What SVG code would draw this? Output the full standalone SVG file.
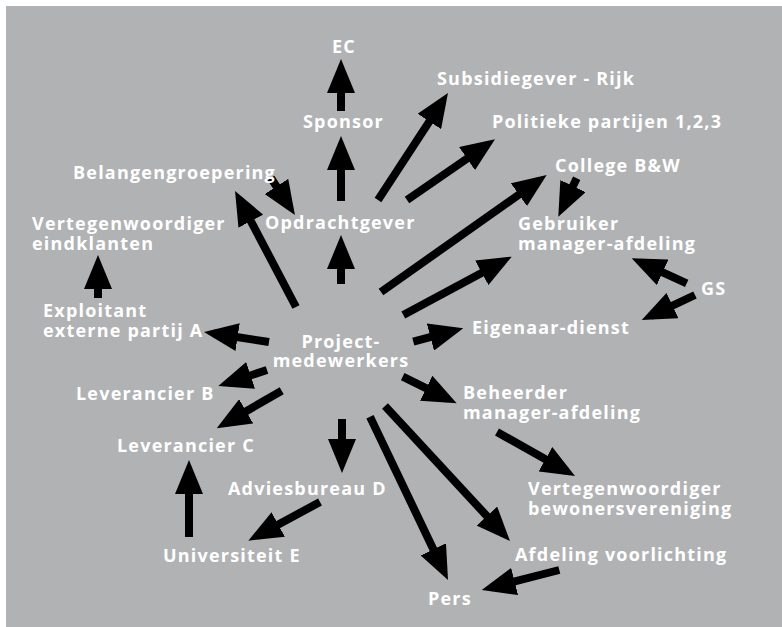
<svg xmlns="http://www.w3.org/2000/svg" width="782" height="627" viewBox="0 0 782 627">
<defs>
<marker id="ah" markerUnits="userSpaceOnUse" markerWidth="34" markerHeight="28" viewBox="0 0 34 28" refX="24" refY="14" orient="auto"><path d="M0,0 L34,14 L0,28 z" fill="#000"/></marker>
<style>
text{font-family:"Open Sans","DejaVu Sans",sans-serif;font-weight:bold;font-size:18px;letter-spacing:1.2px;fill:#fff}
.c{stroke:#000;stroke-width:8;fill:none;marker-end:url(#ah)}
.m{text-anchor:middle}
</style>
</defs>
<rect x="0" y="0" width="782" height="627" fill="#fff"/>
<rect x="6" y="6" width="776" height="621" fill="#b1b2b4"/>
<g id="connectors">
<path class="c" d="M341,111 L341,69"/>
<path class="c" d="M341,201 L341,146"/>
<path class="c" d="M341,284 L341,245"/>
<path class="c" d="M271,178 L289.5,206.6"/>
<path class="c" d="M296,307 L239.7,199.9"/>
<path class="c" d="M98,298 L98,265"/>
<path class="c" d="M269,342 L213.9,333.5"/>
<path class="c" d="M267,370 L227.8,382.9"/>
<path class="c" d="M281.7,390.7 L225.4,423.3"/>
<path class="c" d="M189,537 L189,470"/>
<path class="c" d="M342,419 L342,463"/>
<path class="c" d="M320,502 L257.1,535.9"/>
<path class="c" d="M378,200 L442.5,101.4"/>
<path class="c" d="M407,200 L486.8,145"/>
<path class="c" d="M381,292 L538.5,180.8"/>
<path class="c" d="M403.3,315 L502.9,261.4"/>
<path class="c" d="M576.7,178.3 L562.6,207.7"/>
<path class="c" d="M686.7,283.3 L640.8,262.4"/>
<path class="c" d="M695,295 L650.8,315.8"/>
<path class="c" d="M413.3,341.7 L453.6,330.9"/>
<path class="c" d="M402.7,376.7 L447.7,398.9"/>
<path class="c" d="M497,432 L566.3,471.1"/>
<path class="c" d="M385,406 L503.2,533.7"/>
<path class="c" d="M370,416.7 L443.7,571"/>
<path class="c" d="M559.3,570 L491.4,587.5"/>
</g>
<g id="ec"><text x="332" y="53">EC</text></g>
<g id="sponsor"><text x="303" y="128">Sponsor</text></g>
<g id="belangengroepering"><text x="73" y="179">Belangengroepering</text></g>
<g id="opdrachtgever"><text x="265" y="229">Opdrachtgever</text></g>
<g id="vertegenwoordiger-eindklanten"><text x="32" y="230">Vertegenwoordiger</text><text x="32" y="250">eindklanten</text></g>
<g id="exploitant"><text x="43" y="317">Exploitant</text><text x="43" y="337">externe partij A</text></g>
<g id="projectmedewerkers"><text class="m" x="341" y="348">Project-</text><text class="m" x="341" y="367">medewerkers</text></g>
<g id="leverancier-b"><text x="76" y="400">Leverancier B</text></g>
<g id="leverancier-c"><text x="117" y="452">Leverancier C</text></g>
<g id="adviesbureau-d"><text x="228" y="495">Adviesbureau D</text></g>
<g id="universiteit-e"><text x="163" y="562">Universiteit E</text></g>
<g id="subsidiegever"><text x="437" y="85">Subsidiegever - Rijk</text></g>
<g id="politieke-partijen"><text x="492" y="128">Politieke partijen 1,2,3</text></g>
<g id="college"><text x="555" y="172">College B&amp;W</text></g>
<g id="gebruiker"><text x="518" y="230">Gebruiker</text><text x="518" y="250">manager-afdeling</text></g>
<g id="gs"><text x="701" y="295">GS</text></g>
<g id="eigenaar"><text x="472" y="334">Eigenaar-dienst</text></g>
<g id="beheerder"><text x="463" y="399">Beheerder</text><text x="463" y="419">manager-afdeling</text></g>
<g id="vertegenwoordiger-bewoners"><text x="528" y="495">Vertegenwoordiger</text><text x="528" y="515">bewonersvereniging</text></g>
<g id="afdeling-voorlichting"><text x="515" y="561">Afdeling voorlichting</text></g>
<g id="pers"><text x="428" y="605">Pers</text></g>
</svg>
